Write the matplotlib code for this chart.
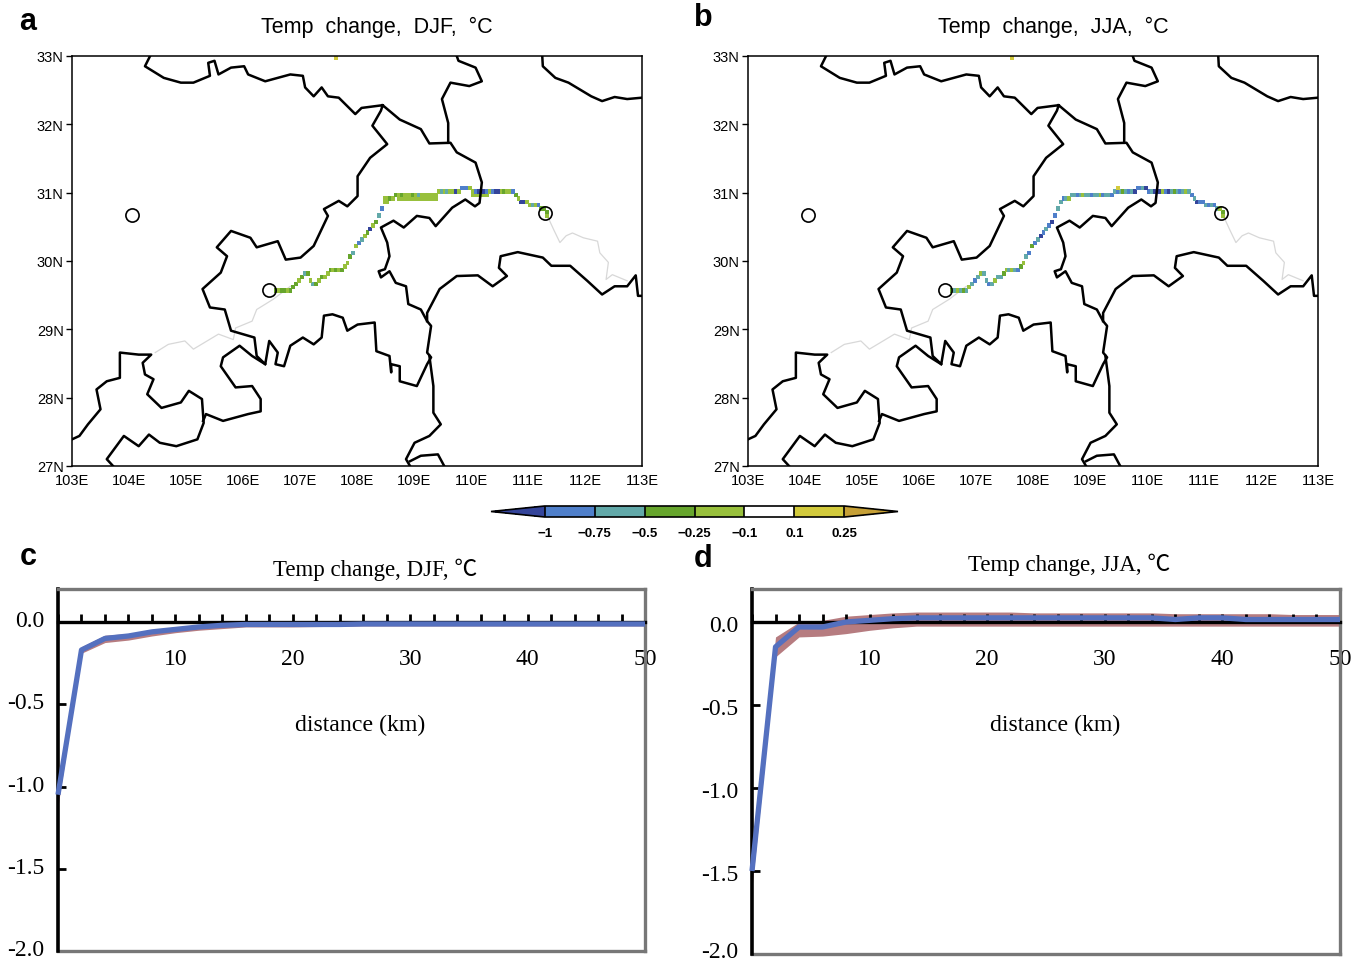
import numpy as np
import matplotlib
matplotlib.use("Agg")
import matplotlib.pyplot as plt
import matplotlib.transforms as mtrans
from matplotlib.colors import ListedColormap, BoundaryNorm
from matplotlib.ticker import MultipleLocator

plt.rcParams['axes.unicode_minus'] = False

# province borders (lon, lat)
border_main_lon = [104.37,104.28,104.61,104.91,105.13,105.42,105.39,105.50,105.57,105.79,106.02,106.09,106.39,106.83,107.05,107.09,107.24,107.38,107.49,107.68,107.97,108.08,108.45,108.75,109.12,109.27,109.64,109.75,110.08,110.19,110.15,110.07,109.90,109.67,109.38,109.27,109.05,108.82,108.64,108.42,108.53,108.57,108.49,108.38,108.42,108.57,108.68,108.86,108.90,109.12,109.23,109.30,109.23,109.30,109.23,109.05,108.75,108.75,108.60,108.60,108.57,108.34,108.31,108.01,107.83,107.75,107.57,107.42,107.38,107.24,107.05,106.83,106.72,106.57,106.61,106.46,106.39,106.24,106.20,105.79,105.68,105.42,105.29,105.61,105.72,105.54,105.79,106.13,106.24,106.61,106.75,107.01,107.24,107.49,107.42,107.68,107.83,108.01,108.01,108.23,108.53,108.27,108.42,108.45]
border_main_lat = [33.00,32.85,32.68,32.61,32.61,32.71,32.90,32.93,32.73,32.83,32.85,32.73,32.63,32.73,32.71,32.54,32.41,32.54,32.41,32.39,32.15,32.24,32.28,32.07,31.93,31.72,31.73,31.59,31.44,31.15,30.85,30.80,30.90,30.78,30.51,30.63,30.66,30.49,30.59,30.49,30.27,30.07,29.88,29.85,29.76,29.85,29.68,29.63,29.37,29.29,29.12,29.05,28.66,28.59,28.49,28.17,28.24,28.46,28.49,28.37,28.61,28.68,29.10,29.07,28.98,29.17,29.22,29.20,28.88,28.78,28.88,28.76,28.46,28.49,28.66,28.83,28.49,28.61,28.88,28.98,29.29,29.32,29.59,29.83,30.07,30.20,30.44,30.34,30.20,30.29,30.02,30.05,30.22,30.66,30.76,30.88,30.80,30.95,31.24,31.51,31.71,31.98,32.20,32.28]
border_sw_lon = [103.00,103.13,103.28,103.50,103.43,103.61,103.84,103.84,104.17,104.39,104.24,104.28,104.43,104.32,104.57,104.91,105.05,105.28,105.31,105.20,104.83,104.54,104.35,104.17,103.91,103.61,103.72]
border_sw_lat = [27.39,27.44,27.61,27.83,28.12,28.24,28.29,28.66,28.63,28.63,28.51,28.34,28.27,28.05,27.85,27.93,28.10,27.98,27.63,27.39,27.29,27.34,27.46,27.29,27.44,27.10,27.00]
border_gz_lon = [106.39,106.16,105.94,105.65,105.61,105.87,106.16,106.31,106.31,106.09,105.65,105.35,105.30]
border_gz_lat = [28.49,28.61,28.76,28.59,28.46,28.15,28.17,27.98,27.80,27.76,27.66,27.76,27.66]
border_n_lon = [109.75,109.78,110.08,110.19,109.97,109.64,109.49,109.60,109.60]
border_n_lat = [33.00,32.93,32.83,32.63,32.56,32.61,32.37,32.02,31.73]
border_ne_lon = [111.25,111.26,111.48,111.71,112.11,112.30,112.52,112.74,113.00]
border_ne_lat = [33.00,32.85,32.68,32.61,32.41,32.34,32.40,32.37,32.39]
border_e_lon = [109.23,109.23,109.45,109.75,110.12,110.38,110.63,110.49,110.52,110.82,111.26,111.41,111.74,112.04,112.30,112.52,112.74,112.89,112.93,113.00]
border_e_lat = [29.12,29.24,29.59,29.78,29.79,29.63,29.78,29.90,30.07,30.13,30.05,29.93,29.93,29.71,29.51,29.63,29.63,29.79,29.49,29.49]
border_s_lon = [109.27,109.34,109.34,109.47,109.27,109.01,108.86,108.93]
border_s_lat = [28.61,28.17,27.78,27.61,27.44,27.34,27.10,27.00]
border_s2_lon = [108.93,109.12,109.42,109.53]
border_s2_lat = [27.07,27.15,27.17,27.00]

# Yangtze outside the study stretch (thin grey)
river_w_lon = [104.46,104.69,104.98,105.13,105.57,105.83,105.87,106.16,106.24,106.53,106.83]
river_w_lat = [28.66,28.78,28.83,28.71,28.93,28.85,29.02,29.12,29.29,29.44,29.63]
river_e_lon = [111.34,111.45,111.56,111.67,111.78,111.97,112.22,112.26,112.41,112.37,112.48,112.74]
river_e_lat = [30.66,30.46,30.27,30.37,30.41,30.34,30.29,30.12,29.98,29.73,29.80,29.71]

# circles marking sites
site_lon = [104.05, 106.45, 111.30]
site_lat = [30.67, 29.57, 30.70]

# model cells along the river
cell_lon = [106.55,106.60,106.65,106.70,106.75,106.80,106.85,106.90,106.95,107.00,107.05,107.10,107.15,107.20,107.25,107.30,107.35,107.40,107.45,107.50,107.55,107.60,107.65,107.70,107.75,107.80,107.85,107.90,107.95,108.00,108.05,108.10,108.15,108.20,108.25,108.30,108.35,108.40,
            108.45,108.50,108.55,108.60,108.65,108.70,108.75,108.80,108.85,108.90,108.95,109.00,109.05,109.10,109.15,109.20,109.25,109.30,109.35,
            109.40,109.45,109.50,109.55,109.60,109.65,109.70,109.75,109.80,109.85,109.90,109.95,110.00,110.05,110.10,110.15,110.20,110.25,110.30,110.35,110.40,110.45,110.50,110.55,110.60,110.65,110.70,110.75,110.80,110.85,110.90,110.95,111.00,111.05,111.10,111.15,111.20,111.25,111.30,111.30]
cell_lat = [29.55,29.55,29.55,29.55,29.55,29.55,29.60,29.65,29.70,29.75,29.80,29.80,29.70,29.65,29.65,29.70,29.75,29.75,29.80,29.85,29.85,29.85,29.85,29.85,29.90,29.95,30.05,30.10,30.20,30.25,30.30,30.35,30.40,30.45,30.50,30.55,30.65,30.75,
            30.85,30.90,30.90,30.90,30.95,30.95,30.95,30.95,30.95,30.95,30.95,30.95,30.95,30.95,30.95,30.95,30.95,30.95,30.95,
            31.00,31.00,31.00,31.00,31.00,31.00,31.00,31.00,31.05,31.05,31.05,31.05,31.00,31.00,31.00,31.00,31.00,31.00,31.00,31.00,31.00,31.00,31.00,31.00,31.00,31.00,31.00,30.95,30.90,30.85,30.85,30.85,30.80,30.80,30.80,30.80,30.75,30.75,30.70,30.65]
cell_djf = [-0.4,-0.2,-0.4,-0.4,-0.2,-0.4,-0.4,-0.4,-0.2,-0.4,-0.6,-0.4,-0.2,-0.6,-0.4,-0.2,-0.4,-0.2,-0.2,-0.4,-0.2,-0.4,-0.2,-0.4,-0.2,-0.2,-0.4,-0.6,-0.2,-0.9,-0.6,-0.2,-0.4,-1.1,-0.2,-0.4,-0.6,-0.9,
            -0.2,-0.2,-0.4,-0.2,-0.4,-0.2,-0.4,-0.2,-0.2,-0.2,-0.4,-0.2,-0.6,-0.2,-0.2,-0.2,-0.2,-0.2,-0.2,
            -0.2,-0.6,-0.2,-0.6,-0.2,-0.2,-1.1,-0.2,-0.9,-0.9,-0.9,-0.2,-0.2,-0.9,-1.1,-0.9,-1.1,-0.9,-0.2,-0.9,-1.1,-1.1,-0.2,-0.4,-0.2,-0.2,-0.9,-0.4,-0.2,-1.1,-1.1,-0.2,-0.2,-0.6,-0.2,-0.9,-0.4,-0.4,-0.4,-0.2]
cell_jja = [-0.4,-0.6,-0.2,-0.6,-0.4,-0.6,-0.2,-0.6,-0.9,-0.6,-0.2,-0.6,-0.6,-0.9,-0.6,-0.2,-0.6,-0.6,-0.4,-0.2,-0.6,-0.2,-0.6,-0.9,-0.4,-0.2,-0.6,-0.9,-0.4,-0.9,-0.6,-1.1,-0.9,-0.6,-0.9,-1.1,-0.9,-0.6,
            -0.6,-0.9,-0.6,-0.2,-0.6,-0.6,-0.9,-0.6,-0.2,-0.6,-0.6,-0.9,-0.6,-0.6,-0.2,-0.9,-0.6,-0.6,-0.9,
            -0.6,-0.9,-0.6,-0.4,-0.6,-0.9,-0.6,-1.1,-0.9,-0.9,-0.6,-1.1,-0.9,-0.6,-1.1,-0.9,-1.1,-0.2,-0.9,-1.1,-0.6,-0.4,-0.6,-0.9,-0.6,-0.2,-0.6,-0.9,-0.6,-1.1,-0.9,-0.9,-0.6,-0.9,-0.6,-0.9,-0.6,-0.2,-0.4,-0.2]
# cells where the DJF signal is two rows wide, plus stray cells
extra_djf_lon = [108.45,108.50,108.70,108.75,108.80,108.85,108.90,108.95,109.00,109.05,109.10,109.15,109.20,109.25,109.30,109.35,110.00,110.05,110.10,110.15,110.20,110.25,107.60]
extra_djf_lat = [30.90,30.85,30.90,30.90,30.90,30.90,30.90,30.90,30.90,30.90,30.90,30.90,30.90,30.90,30.90,30.90,30.95,30.95,30.95,30.95,30.95,30.95,32.95]
extra_djf_val = [-0.2,-0.2,-0.2,-0.2,-0.2,-0.2,-0.2,-0.2,-0.2,-0.2,-0.2,-0.2,-0.2,-0.2,-0.2,-0.2,-0.2,-0.2,-0.2,-0.2,-0.2,-0.2,0.2]
extra_jja_lon = [107.60, 109.45]
extra_jja_lat = [32.95, 31.05]
extra_jja_val = [0.2, 0.2]

levels = [-1, -0.75, -0.5, -0.25, -0.1, 0.1, 0.25]
level_labels = ['\u22121', '\u22120.75', '\u22120.5', '\u22120.25', '\u22120.1', '0.1', '0.25']
level_colors = ['#4f7fca', '#62a9a9', '#66a52c', '#98c03c', '#ffffff', '#d2ca3c']
under_color = '#34449a'
over_color = '#c6a036'

# distance profiles (km, degC)
dist = [0,2,4,6,8,10,12,14,16,18,20,22,24,26,28,30,32,34,36,38,40,42,44,46,48,50]
djf_mean = [-1.05,-0.17,-0.10,-0.085,-0.06,-0.045,-0.03,-0.02,-0.015,-0.015,-0.015,-0.015,-0.015,-0.012,-0.012,-0.012,-0.012,-0.012,-0.012,-0.012,-0.012,-0.012,-0.012,-0.012,-0.012,-0.012]
djf_low = [-1.12,-0.19,-0.125,-0.11,-0.085,-0.065,-0.05,-0.04,-0.03,-0.03,-0.03,-0.028,-0.026,-0.024,-0.024,-0.024,-0.024,-0.024,-0.024,-0.024,-0.024,-0.024,-0.024,-0.024,-0.024,-0.024]
djf_high = [-1.00,-0.15,-0.08,-0.07,-0.045,-0.03,-0.018,-0.008,-0.004,-0.004,-0.004,-0.003,-0.002,-0.001,-0.001,-0.001,-0.001,-0.001,-0.001,-0.001,-0.001,-0.001,-0.001,-0.001,-0.001,-0.001]
jja_mean = [-1.50,-0.15,-0.03,-0.03,0.0,0.01,0.02,0.025,0.025,0.025,0.025,0.025,0.025,0.025,0.025,0.025,0.025,0.025,0.015,0.025,0.025,0.015,0.015,0.015,0.015,0.015]
jja_low = [-1.60,-0.21,-0.09,-0.085,-0.07,-0.05,-0.035,-0.025,-0.025,-0.025,-0.025,-0.025,-0.025,-0.025,-0.025,-0.025,-0.025,-0.025,-0.025,-0.025,-0.025,-0.025,-0.025,-0.025,-0.025,-0.025]
jja_high = [-1.45,-0.09,0.0,0.01,0.035,0.045,0.055,0.06,0.06,0.06,0.06,0.06,0.055,0.055,0.055,0.055,0.055,0.055,0.05,0.05,0.05,0.05,0.05,0.045,0.045,0.045]

W, H = 1365, 962
fig = plt.figure(figsize=(W / 100, H / 100), dpi=100)
NARROW = ['Liberation Sans Narrow', 'Liberation Sans', 'DejaVu Sans']
SERIF = ['Liberation Serif', 'Noto Sans CJK SC', 'DejaVu Sans']
SANS = ['Liberation Sans', 'DejaVu Sans']


def px_axes(left, top, right, bottom):
    return fig.add_axes([left / W, 1 - bottom / H, (right - left) / W, (bottom - top) / H])


cmap = ListedColormap(level_colors).with_extremes(under=under_color, over=over_color)
norm = BoundaryNorm(levels, cmap.N)

borders = [(border_main_lon, border_main_lat), (border_sw_lon, border_sw_lat),
           (border_gz_lon, border_gz_lat), (border_n_lon, border_n_lat),
           (border_ne_lon, border_ne_lat), (border_e_lon, border_e_lat),
           (border_s_lon, border_s_lat), (border_s2_lon, border_s2_lat)]


def draw_map(left, right, vals, ex_lon, ex_lat, ex_val, title, title_x):
    ax = px_axes(left, 57, right, 467)
    # put the cells on a 0.05 degree grid
    edges_x = 103 + 0.05 * np.arange(201)
    edges_y = 27 + 0.05 * np.arange(121)
    z = np.full((120, 200), np.nan)
    for lo, la, v in zip(cell_lon + ex_lon, cell_lat + ex_lat, vals + ex_val):
        z[int(round((la - 27) / 0.05)), int(round((lo - 103) / 0.05))] = v
    ax.pcolormesh(edges_x, edges_y, z, cmap=cmap, norm=norm, zorder=2, edgecolors='face', linewidth=0.7)
    ax.plot(river_w_lon, river_w_lat, color='#d8d8d8', lw=0.9, zorder=1)
    ax.plot(river_e_lon, river_e_lat, color='#d8d8d8', lw=0.9, zorder=1)
    for lo, la in borders:
        ax.plot(lo, la, color='black', lw=1.8, zorder=3)
    ax.plot(site_lon, site_lat, 'o', mfc='none', mec='black', ms=9.5, mew=1.2, zorder=4)
    ax.set_xlim(103, 113)
    ax.set_ylim(27, 33)
    ax.set_xticks(range(103, 114))
    ax.set_xticklabels([f'{v}E' for v in range(103, 114)], family=NARROW, fontsize=10.5)
    ax.set_yticks(range(27, 34))
    ax.set_yticklabels([f'{v}N' for v in range(27, 34)], family=NARROW, fontsize=10.5)
    ax.tick_params(axis='x', length=0, pad=5)
    ax.tick_params(axis='y', length=4, width=1, pad=2)
    for s in ax.spines.values():
        s.set_linewidth(1.1)
    fig.text(title_x / W, 1 - 27 / H, title, family=NARROW, fontsize=15.5, ha='center', va='center')


draw_map(72, 642, cell_djf, extra_djf_lon, extra_djf_lat, extra_djf_val, 'Temp  change,  DJF,  \u00b0C', 377)
draw_map(748, 1318, cell_jja, extra_jja_lon, extra_jja_lat, extra_jja_val, 'Temp  change,  JJA,  \u00b0C', 1053)

# colorbar between the rows; the axes span includes the two end triangles
cax = px_axes(491, 507, 898, 518)
sm = plt.cm.ScalarMappable(cmap=cmap, norm=norm)
cb = fig.colorbar(sm, cax=cax, orientation='horizontal', extend='both', spacing='uniform',
                  extendfrac=0.179, drawedges=True)
cb.set_ticks(levels)
cb.set_ticklabels(level_labels, family=SANS, fontsize=9.5, fontweight='bold')
cb.ax.tick_params(length=0, pad=7)
cb.outline.set_linewidth(1.2)
cb.dividers.set_linewidth(1.2)


def draw_profile(left, right, bottom_px, mean, low, high, title, title_xy, label_shift, last_shift):
    ax = px_axes(left, 590, right, bottom_px)
    y_bottom = -2.0
    y_top = (623 - 590) / ((bottom_px - 623) / 2.0)
    ax.fill_between(dist, low, high, color='#b67c80', lw=0, zorder=1)
    ax.plot(dist, mean, color='#5470bf', lw=3.8, zorder=3, clip_on=False, solid_capstyle='butt')
    ax.set_xlim(0, 50)
    ax.set_ylim(y_bottom, y_top)
    ax.spines['bottom'].set_position(('data', 0))
    ax.spines['bottom'].set_color('black')
    ax.spines['bottom'].set_linewidth(2.4)
    ax.spines['left'].set_color('black')
    ax.spines['left'].set_linewidth(2.6)
    for side in ['top', 'right']:
        ax.spines[side].set_color('#777777')
        ax.spines[side].set_linewidth(2.4)
    # grey bottom edge of the frame, since the x axis sits at zero
    ax.axhline(y_bottom, color='#777777', lw=2.4, clip_on=False)
    ax.xaxis.set_major_locator(MultipleLocator(10))
    ax.xaxis.set_minor_locator(MultipleLocator(2))
    ax.set_xticks([10, 20, 30, 40, 50])
    ax.set_xticklabels(['10', '20', '30', '40', '50'], family=SERIF, fontsize=17)
    ax.tick_params(axis='x', which='both', direction='in', length=6, width=2)
    ax.tick_params(axis='x', which='major', pad=19)
    ax.set_yticks([0, -0.5, -1.0, -1.5, -2.0])
    ax.set_yticklabels(['0.0', '-0.5', '-1.0', '-1.5', '-2.0'], family=SERIF, fontsize=17)
    ax.tick_params(axis='y', direction='in', length=6, width=2, pad=10)
    # y labels do not sit exactly on their ticks in the original; last one kept inside the figure
    labs = ax.get_yticklabels()
    for i, lab in enumerate(labs):
        s = last_shift if i == len(labs) - 1 else label_shift
        lab.set_transform(lab.get_transform() + mtrans.ScaledTranslation(0, s / 100, fig.dpi_scale_trans))
    fig.text((left + right) / 2 / W + 0.0065, 1 - 725 / H, 'distance (km)', family=SERIF, fontsize=17.2,
             ha='center', va='center')
    fig.text(title_xy[0] / W, 1 - title_xy[1] / H, title, family=SERIF, fontsize=16.5, ha='center', va='center')


draw_profile(58, 645, 952, djf_mean, djf_low, djf_high, 'Temp change, DJF, \u2103', (375, 570), 4, 4)
draw_profile(752, 1340, 955, jja_mean, jja_low, jja_high, 'Temp change, JJA, \u2103', (1069, 565), -1, 5)

for letter, x, y in [('a', 28, 22), ('b', 703, 18), ('c', 28, 557), ('d', 703, 559)]:
    fig.text(x / W, 1 - y / H, letter, family=SANS, fontsize=22, fontweight='bold', ha='center', va='center')

fig.savefig('out.png', dpi=100)
